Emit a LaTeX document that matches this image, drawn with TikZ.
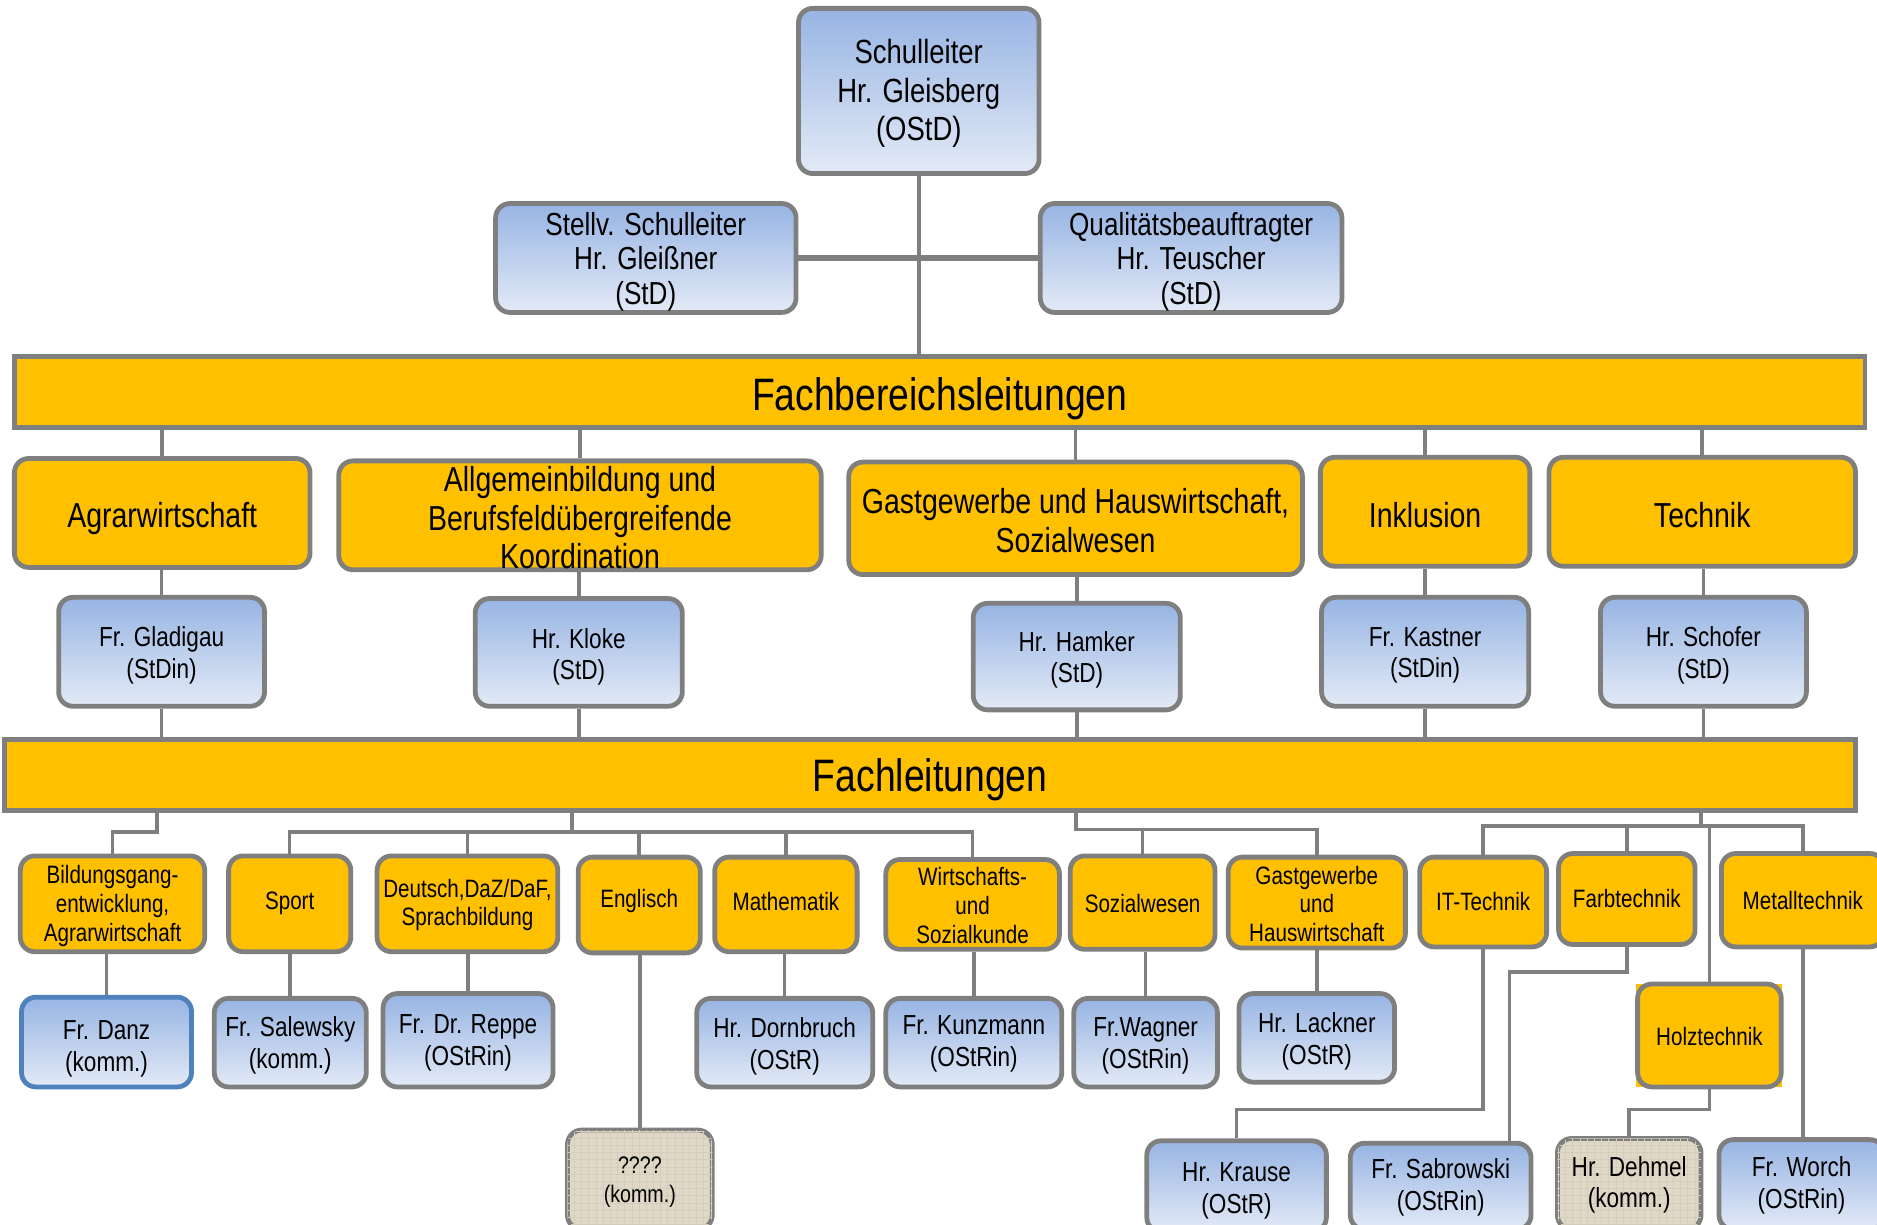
\documentclass[tikz,border=0pt]{standalone}
\usepackage{fontspec}
\usetikzlibrary{patterns}
\setmainfont[FakeStretch=0.82]{Liberation Sans}
\definecolor{fborange}{HTML}{FFC000}
\definecolor{bgray}{HTML}{7F7F7F}
\definecolor{btop}{HTML}{97B4E3}
\definecolor{bbot}{HTML}{E3EAF6}
\definecolor{bblue}{HTML}{4F81BD}
\definecolor{beige}{HTML}{DFD8C7}
\definecolor{beigeline}{HTML}{D5CDBA}
% #1 text shift, #2 shape style, #3 font style, #4 name, #5-#8 corners, #9 text
\newcommand\mkbox[9][-1.5pt]{%
  \node[#2, minimum width={(#7-#5)*0.5pt}, minimum height={(#8-#6)*0.5pt}] (#4) at ({(#5+#7)/2},{(#6+#8)/2}) {};
  \node[#3, align=center, inner sep=0pt, yshift=#1] (#4-t) at (#4.center) {#9};}
\tikzset{
  base/.style={rounded corners=6pt, draw=bgray, line width=2pt, inner sep=0pt},
  blueshape/.style={base, top color=btop, bottom color=bbot},
  orangeshape/.style={base, fill=fborange},
  beigeshape/.style={base, fill=beige, postaction={pattern=grid, pattern color=beigeline}},
  barshape/.style={draw=bgray, line width=2pt, fill=fborange, inner sep=0pt},
  holzbg/.style={fill=fborange, inner sep=0pt},
  ftop/.style={font=\fontsize{14}{16}\selectfont},
  fsub/.style={font=\fontsize{13.3}{14.5}\selectfont},
  flead/.style={font=\fontsize{14.5}{16}\selectfont},
  fpers/.style={font=\fontsize{11.5}{13}\selectfont},
  ffach/.style={font=\fontsize{10.5}{12}\selectfont},
  fperb/.style={font=\fontsize{11.5}{13.3}\selectfont},
  fsmall/.style={font=\fontsize{10}{12.5}\selectfont},
  fbig/.style={font=\fontsize{19}{22}\selectfont},
  conn/.style={draw=bgray, line width=1.5pt},
}
\begin{document}
\begin{tikzpicture}[x=0.5pt,y=-0.5pt]
\useasboundingbox (0,0) rectangle (1568,1023);
% top
\mkbox[-1pt]{blueshape}{ftop}{sl}{667}{7}{868}{145}{Schulleiter\\Hr. Gleisberg\\(OStD)}
\mkbox{blueshape}{fsub}{stv}{414}{170}{665}{261}{Stellv. Schulleiter\\Hr. Gleißner\\(StD)}
\mkbox{blueshape}{fsub}{qb}{869}{170}{1121}{261}{Qualitätsbeauftragter\\Hr. Teuscher\\(StD)}
\mkbox[-3pt]{barshape}{fbig}{fbl}{12}{298}{1558}{357}{Fachbereichsleitungen}
% Fachbereiche
\mkbox[-2.5pt]{orangeshape}{flead}{fb1}{12}{383}{259}{474}{Agrarwirtschaft}
\mkbox[-1pt]{orangeshape}{flead}{fb2}{283}{385}{686}{476}{Allgemeinbildung und\\Berufsfeldübergreifende\\Koordination}
\mkbox[-1pt]{orangeshape}{flead}{fb3}{709}{386}{1088}{480}{Gastgewerbe und Hauswirtschaft,\\Sozialwesen}
\mkbox{orangeshape}{flead}{fb4}{1103}{382}{1278}{473}{Inklusion}
\mkbox{orangeshape}{flead}{fb5}{1294}{382}{1550}{473}{Technik}
\mkbox{blueshape}{fpers}{p1}{49}{499}{221}{590}{Fr. Gladigau\\(StDin)}
\mkbox[-1.8pt]{blueshape}{fpers}{p2}{397}{500}{570}{590}{Hr. Kloke\\(StD)}
\mkbox{blueshape}{fpers}{p3}{813}{504}{986}{593}{Hr. Hamker\\(StD)}
\mkbox{blueshape}{fpers}{p4}{1104}{499}{1277}{590}{Fr. Kastner\\(StDin)}
\mkbox{blueshape}{fpers}{p5}{1337}{499}{1509}{590}{Hr. Schofer\\(StD)}
\mkbox[-2pt]{barshape}{fbig}{fl}{4}{618}{1550}{677}{Fachleitungen}
% Fachleitungen
\mkbox[-1pt]{orangeshape}{ffach}{f1}{17}{715}{171}{795}{Bildungsgang-\\entwicklung,\\Agrarwirtschaft}
\mkbox[0pt]{orangeshape}{ffach}{f2}{191}{715}{293}{795}{Sport}
\mkbox[-0.5pt]{orangeshape}{ffach}{f3}{315}{715}{466}{795}{Deutsch,DaZ/DaF,\\Sprachbildung}
\mkbox[1.5pt]{orangeshape}{ffach}{f4}{483}{716}{585}{796}{Englisch}
\mkbox[1pt]{orangeshape}{ffach}{f5}{597}{716}{716}{795}{Mathematik}
\mkbox[-0.5pt]{orangeshape}{ffach}{f6}{740}{718}{885}{793}{Wirtschafts-\\und\\Sozialkunde}
\mkbox[-0.5pt]{orangeshape}{ffach}{f7}{894}{715}{1015}{793}{Sozialwesen}
\mkbox[-0.5pt]{orangeshape}{ffach}{f8}{1026}{716}{1174}{792}{Gastgewerbe\\und\\Hauswirtschaft}
\mkbox[0pt]{orangeshape}{ffach}{f9}{1186}{716}{1292}{791}{IT-Technik}
\mkbox[0pt]{orangeshape}{ffach}{f10}{1302}{713}{1416}{789}{Farbtechnik}
\mkbox[0pt]{orangeshape}{ffach}{f11}{1438}{713}{1574}{791}{Metalltechnik}
\node[holzbg, minimum width=61pt, minimum height=43pt] (f12bg) at (1428,865) {};
\mkbox[-0.5pt]{orangeshape}{ffach}{f12}{1368}{822}{1488}{908}{Holztechnik}
% persons
\mkbox[-3pt]{blueshape, draw=bblue}{fperb}{q1}{18}{833}{160}{908}{Fr. Danz\\(komm.)}
\mkbox[-1pt]{blueshape}{fperb}{q2}{179}{834}{306}{908}{Fr. Salewsky\\(komm.)}
\mkbox[-1pt]{blueshape}{fperb}{q3}{320}{830}{462}{908}{Fr. Dr. Reppe\\(OStRin)}
\mkbox[-1pt]{beigeshape}{fsmall}{q4}{474}{944}{595}{1027}{????\\(komm.)}
\mkbox{blueshape}{fperb}{q5}{582}{834}{729}{908}{Hr. Dornbruch\\(OStR)}
\mkbox[-0.5pt]{blueshape}{fperb}{q6}{740}{834}{887}{908}{Fr. Kunzmann\\(OStRin)}
\mkbox{blueshape}{fperb}{q7}{897}{834}{1017}{908}{Fr.Wagner\\(OStRin)}
\mkbox{blueshape}{fperb}{q8}{1035}{830}{1165}{904}{Hr. Lackner\\(OStR)}
\mkbox[-2pt]{blueshape}{fperb}{q9}{958}{953}{1108}{1029}{Hr. Krause\\(OStR)}
\mkbox[-0.5pt]{blueshape}{fperb}{q10}{1128}{955}{1279}{1027}{Fr. Sabrowski\\(OStRin)}
\mkbox[-0.5pt]{beigeshape}{fpers}{q11}{1301}{951}{1421}{1027}{Hr. Dehmel\\(komm.)}
\mkbox[-0.5pt]{blueshape}{fperb}{q12}{1436}{952}{1574}{1027}{Fr. Worch\\(OStRin)}
% connectors top
\draw[conn] (sl.south) -- (sl.south |- fbl.north);
\draw[conn, line width=2.5pt] (stv.east) -- (qb.west);
\foreach \i in {1,...,5}{
  \draw[conn] (fb\i.north) -- (fb\i.north |- fbl.south);
  \draw[conn] (p\i.north) -- (p\i.north |- fb\i.south);
  \draw[conn] (p\i.south) -- (p\i.south |- fl.north);
}
% connectors bottom
\coordinate (j1) at (131,695);
\draw[conn] (j1 |- fl.south) -- (j1) -| (f1.north);
\coordinate (j2) at (478,695);
\draw[conn] (j2 |- fl.south) -- (j2);
\draw[conn] (f2.north) -- (f2.north |- j2) -- (f6.north |- j2) -- (f6.north);
\foreach \i in {3,4,5}{\draw[conn] (f\i.north) -- (f\i.north |- j2);}
\coordinate (j3) at (899,693);
\draw[conn] (j3 |- fl.south) -- (j3) -- (f8.north |- j3) -- (f8.north);
\draw[conn] (f7.north) -- (f7.north |- j3);
\coordinate (j4) at (1421,690);
\draw[conn] (j4 |- fl.south) -- (j4);
\draw[conn] (f9.north) -- (f9.north |- j4) -- (f11.north |- j4) -- (f11.north);
\draw[conn] (f10.north) -- (f10.north |- j4);
\draw[conn] (f12.north) -- (f12.north |- j4);
\foreach \i in {1,...,8}{\draw[conn] (q\i.north) -- (q\i.north |- f\i.south);}
\coordinate (k9) at (1033,927);
\draw[conn] (f9.south) -- (f9.south |- k9) -| (q9.north);
\coordinate (k10) at (1261,812);
\draw[conn] (f10.south) |- (k10) -- (k10 |- q10.north);
\coordinate (k12) at (1361,927);
\draw[conn] (f12.south) |- (k12) -- (k12 |- q11.north);
\draw[conn] (f11.south) -- (f11.south |- q12.north);
\end{tikzpicture}
\end{document}
